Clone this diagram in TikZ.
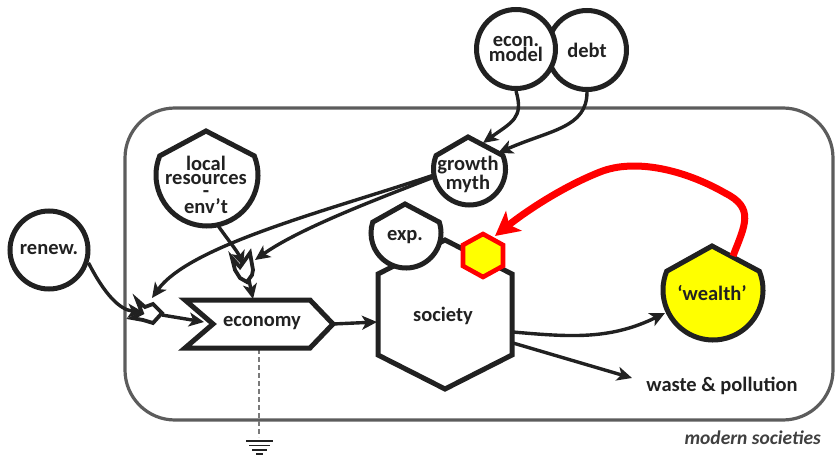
\documentclass[tikz,border=0pt]{standalone}
\usepackage{fontspec}
\setmainfont{Carlito}
\usetikzlibrary{arrows.meta}
\definecolor{ink}{gray}{0.13}
\definecolor{frame}{gray}{0.36}
\definecolor{yel}{RGB}{255,255,0}
\definecolor{rd}{RGB}{255,0,0}
\tikzset{
  x=1pt,y=-1pt,
  outline/.style={draw=ink,line width=5pt,line join=miter,fill=white},
  lbl/.style={text=ink,font=\fontsize{20.5}{13.5}\selectfont\bfseries,align=center,inner sep=0pt},
  conn/.style={draw=ink,line width=3.4pt,-{Stealth[length=15pt,width=14pt,inset=4pt]}},
  redconn/.style={draw=rd,line width=7pt,-{Stealth[length=24pt,width=25pt,inset=6pt]}},
  earth/.style={draw=ink,line width=1.6pt},
  valve/.style={draw=ink,line width=3.8pt,fill=white,line join=miter},
}
\begin{document}
\begin{tikzpicture}
\useasboundingbox (0,0) rectangle (835,457);
\draw[draw=frame,line width=3.2pt,rounded corners=50pt] (125,108) rectangle (833,420);
% ground
\coordinate (gtop) at (259,437);
\draw[draw=ink!60,line width=1.2pt,dash pattern=on 5pt off 3pt] (259,349) -- (gtop);
\draw[earth] (246,441) -- (273,441);
\draw[earth] (249,445.5) -- (270,445.5);
\draw[earth] (252,450) -- (267,450);
\draw[earth] (256,454) -- (263,454);
% circles
\node[outline,circle,minimum size=78pt,inner sep=0pt] (renew) at (49,250) {};
\node[outline,circle,minimum size=79pt,inner sep=0pt] (debt) at (587,50) {};
\node[outline,circle,minimum size=79pt,inner sep=0pt] (econ) at (516,49) {};
% shields
\draw[outline] (207,175) ++(-22:51) arc[start angle=-22,end angle=202,radius=51] -- (206,131) -- cycle;
\node[circle,minimum size=102pt,inner sep=0pt] (local) at (207,175) {};
\draw[outline] (469.5,169) ++(-22:36) arc[start angle=-22,end angle=202,radius=36] -- (468,137) -- cycle;
\node[circle,minimum size=72pt,inner sep=0pt] (growth) at (469.5,169) {};
% society
\draw[outline] (445,240) -- (512,274) -- (512,355) -- (445,389) -- (378,355) -- (378,274) -- cycle;
\draw[outline] (406,233) ++(-18:35) arc[start angle=-18,end angle=198,radius=35] -- (405,204) -- cycle;
\node[circle,minimum size=70pt,inner sep=0pt] (expn) at (406,233) {};
\draw[draw=rd,line width=4.6pt,fill=yel] (483,234) -- (503,245) -- (503,266) -- (483,277) -- (463,266) -- (463,245) -- cycle;
\coordinate (hexin) at (495,236);
% wealth
\draw[outline,fill=yel] (713,290) ++(-22:50) arc[start angle=-22,end angle=202,radius=50] -- (712,246) -- cycle;
\node[circle,minimum size=100pt,inner sep=0pt] (wealth) at (713,290) {};
\coordinate (wout) at (733,256);
% economy
\draw[outline] (185,300) -- (310,300) -- (333,324) -- (310,348) -- (185,348) -- (213,324) -- cycle;
% valves
\draw[valve] (137,300) -- (145,307) -- (153,304) -- (162,313) -- (153,323) -- (143,320) -- (132,318) -- (142,313) -- cycle;
\draw[valve] (232,258) -- (240,267) -- (250,253) -- (253,270) -- (252,275) -- (247,282) -- (240,278) -- (235,270) -- cycle;
% connector ends
\coordinate (ginl) at (434,175);
\coordinate (ginr) at (434,177);
\coordinate (v1w) at (143,312);
\coordinate (v1n) at (152,298);
\coordinate (v1e) at (162,315);
\coordinate (v2in) at (243,266);
\coordinate (v2ne) at (255,260);
\coordinate (v2s) at (249,280);
\coordinate (ecw) at (204,322);
\coordinate (ecn) at (253,299);
\coordinate (ece) at (333,324);
\coordinate (socw) at (377,322);
\coordinate (soce) at (513,332);
\coordinate (socse) at (513,343);
\coordinate (g1) at (483,143);
\coordinate (g2) at (498,153);
\coordinate (wastend) at (632,378);
\coordinate (wealthin) at (665,313);
\coordinate (rtop) at (725,193);
\coordinate (rmid) at (600,172);
% connectors
\draw[conn] (renew.-18) .. controls (105,295) and (120,310) .. (v1w);
\draw[conn] (v1e) -- (ecw);
\draw[conn] (ginl) .. controls (330,210) and (190,245) .. (v1n);
\draw[conn] (ginr) .. controls (380,198) and (300,228) .. (v2ne);
\draw[conn] (local.-78) .. controls (228,240) and (238,252) .. (v2in);
\draw[conn] (v2s) -- (ecn);
\draw[conn] (ece) -- (socw);
\draw[conn] (soce) .. controls (570,337) and (610,340) .. (wealthin);
\draw[conn] (socse) -- (wastend);
\draw[conn] (econ.-90) .. controls (524,118) and (512,122) .. (g1);
\draw[conn] (debt.-90) .. controls (587,128) and (550,130) .. (g2);
\draw[redconn] (wout) .. controls (745,225) and (755,208) .. (rtop) .. controls (685,170) and (635,158) .. (rmid) .. controls (562,187) and (525,212) .. (hexin);
% labels
\node[lbl] (trenew) at (49,250) {renew.};
\node[lbl] (tlocal) at (206,185) {local\\resources\\-\\env’t};
\node[lbl] (teconomy) at (262,323) {economy};
\node[lbl] (tecon) at (516,49) {econ.\\model};
\node[lbl] (tdebt) at (587,50) {debt};
\node[lbl] (tgrowth) at (468,174) {growth\\myth};
\node[lbl] (texp) at (405,237) {exp.};
\node[lbl] (tsociety) at (443,316) {society};
\node[lbl] (twealth) at (712,293) {‘wealth’};
\node[lbl] (twaste) at (722,386) {waste \& pollution};
\node[text=frame!70!black,font=\fontsize{19.5}{19.5}\selectfont\bfseries\itshape,inner sep=0pt,anchor=east] (tmodern) at (821,438) {modern societies};
\end{tikzpicture}
\end{document}
